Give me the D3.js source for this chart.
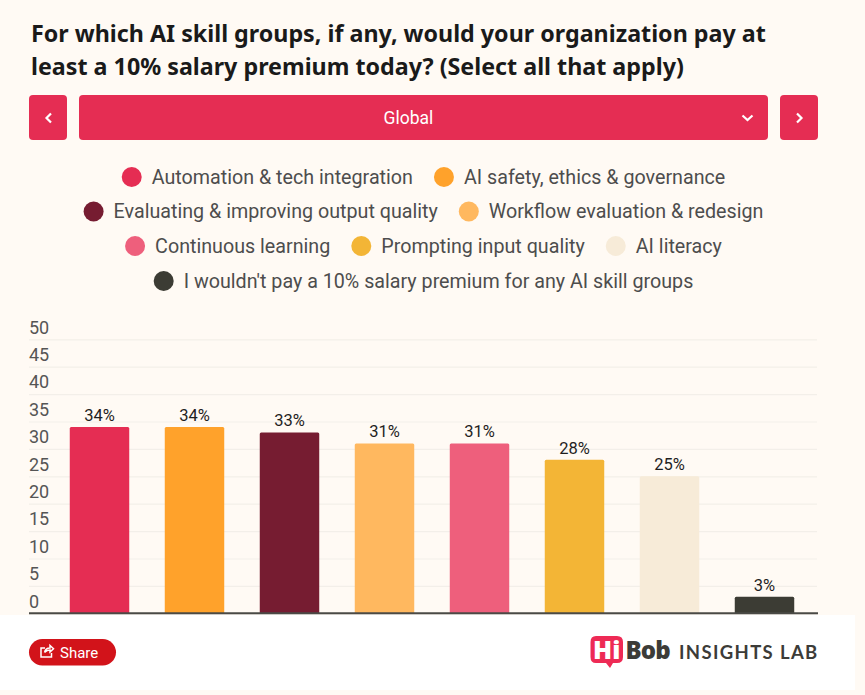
<!DOCTYPE html>
<html>
<head>
<meta charset="utf-8">
<script src="https://cdn.jsdelivr.net/npm/d3@7"></script>
<style>
  html, body { margin: 0; padding: 0; background: #fffaf4; overflow: hidden; }
  svg { display: block; }
  text { font-family: Roboto, sans-serif; }
</style>
</head>
<body>
<div id="chart"></div>
<script>
const titleLines = [
    "For which AI skill groups, if any, would your organization pay at",
    "least a 10% salary premium today? (Select all that apply)"
]
const selected = "Global"

const categories = [
    "Automation & tech integration",
    "AI safety, ethics & governance",
    "Evaluating & improving output quality",
    "Workflow evaluation & redesign",
    "Continuous learning",
    "Prompting input quality",
    "AI literacy",
    "I wouldn't pay a 10% salary premium for any AI skill groups"
]
const values = [34, 34, 33, 31, 31, 28, 25, 3]
const colors = ["#e52d53", "#ffa22b", "#761c31", "#ffb85f", "#ee5f7c", "#f3b536", "#f7ebd8", "#3c3c34"]
const yTicks = [0, 5, 10, 15, 20, 25, 30, 35, 40, 45, 50]
// which categories sit on which legend row
const legendRows = [[0, 1], [2, 3], [4, 5, 6], [7]]

const width = 865
const height = 695
const red = "#e52d53"

const svg = d3.select("#chart").append("svg")
    .attr("width", width)
    .attr("height", height)

// white footer strip goes first, the axis line overlaps it a little
svg.append("rect")
    .attr("x", 0).attr("y", 615)
    .attr("width", 855).attr("height", 75)
    .attr("fill", "#ffffff")

// title
svg.selectAll("text.title")
    .data(titleLines)
    .enter().append("text")
    .attr("class", "title")
    .attr("x", 31)
    .attr("y", (d, i) => 41.5 + i * 33.7)
    .style("font-family", "'Noto Sans', sans-serif")
    .style("font-weight", 700)
    .style("font-size", "23.27px")
    .attr("fill", "#1a1a1a")
    .text(d => d)

// selector buttons
const buttons = [
    {x: 29, w: 38},
    {x: 79, w: 689},
    {x: 780, w: 38}
]
svg.selectAll("rect.button")
    .data(buttons)
    .enter().append("rect")
    .attr("class", "button")
    .attr("x", d => d.x)
    .attr("y", 95)
    .attr("width", d => d.w)
    .attr("height", 45)
    .attr("rx", 4)
    .attr("fill", red)

svg.append("text")
    .attr("x", 408.5)
    .attr("y", 123.5)
    .attr("text-anchor", "middle")
    .attr("fill", "#ffffff")
    .style("font-size", "17.5px")
    .text(selected)

// little chevrons on the buttons
const chevrons = ["M51 113.5 L46.5 118 L51 122.5", "M797 113.5 L801.5 118 L797 122.5", "M742.5 115.5 L747.5 120 L752.5 115.5"]
svg.selectAll("path.chevron")
    .data(chevrons)
    .enter().append("path")
    .attr("class", "chevron")
    .attr("d", d => d)
    .attr("fill", "none")
    .attr("stroke", "#ffffff")
    .attr("stroke-width", 2.2)

// legend, each row is measured and then centered
const legendY = [177, 211.5, 246, 281]
legendRows.forEach((row, r) => {
    const g = svg.append("g")
    let x = 0
    row.forEach(i => {
        g.append("circle")
            .attr("cx", x + 10)
            .attr("r", 10)
            .attr("fill", colors[i])
        const label = g.append("text")
            .attr("x", x + 30)
            .attr("dy", "0.35em")
            .attr("fill", "#4d4d4d")
            .style("font-size", "19.7px")
            .text(categories[i])
        x += 30 + label.node().getComputedTextLength() + 21
    })
    g.attr("transform", `translate(${423.5 - (x - 21) / 2},${legendY[r]})`)
})

// scales
const x = d3.scaleBand()
    .domain(categories)
    .range([52, 812])
    .paddingInner(0.374)
    .paddingOuter(0.187)

const y = d3.scaleLinear()
    .domain([0, 50])
    .range([613.3, 339.3])

// y axis with the labels sitting on top of the grid lines
const yAxis = d3.axisRight(y)
    .tickValues(yTicks)
    .tickSize(788)
    .tickFormat(d3.format("d"))

const axisG = svg.append("g")
    .attr("transform", "translate(29,0)")
    .call(yAxis)
axisG.select(".domain").remove()
axisG.selectAll(".tick line")
    .attr("stroke", "#f3efe9")
    .attr("stroke-width", 1.2)
axisG.selectAll(".tick text")
    .attr("x", 0)
    .attr("dy", "-0.35em")
    .attr("text-anchor", "start")
    .attr("fill", "#555555")
    .style("font-family", "Roboto, sans-serif")
    .style("font-size", "18px")

// bars
const bars = categories.map((c, i) => ({name: c, value: values[i], color: colors[i]}))

svg.selectAll("path.bar")
    .data(bars)
    .enter().append("path")
    .attr("class", "bar")
    .attr("fill", d => d.color)
    .attr("d", d => {
        const l = x(d.name), w = x.bandwidth(), t = y(d.value), b = y(0), r = 1.5
        return `M${l} ${b} V${t + r} Q${l} ${t} ${l + r} ${t} H${l + w - r} Q${l + w} ${t} ${l + w} ${t + r} V${b} Z`
    })

svg.selectAll("text.value")
    .data(bars)
    .enter().append("text")
    .attr("class", "value")
    .attr("x", d => x(d.name) + x.bandwidth() / 2)
    .attr("y", d => y(d.value) - 6)
    .attr("text-anchor", "middle")
    .attr("fill", "#1f1f1f")
    .style("font-size", "16.5px")
    .text(d => d.value + "%")

// baseline
svg.append("line")
    .attr("x1", 29).attr("x2", 818)
    .attr("y1", y(0)).attr("y2", y(0))
    .attr("stroke", "#4a4a46")
    .attr("stroke-width", 2)

// share button
svg.append("rect")
    .attr("x", 29).attr("y", 639)
    .attr("width", 87).attr("height", 26.5)
    .attr("rx", 13.25)
    .attr("fill", "#d2131a")
svg.append("path")
    .attr("d", "M45 648 H41 V657 H51.5 V653 M44.5 652.5 Q45.5 648 50 648 V645.5 L53.5 648.8 L50 652 V650 Q47 650 44.5 652.5")
    .attr("fill", "none")
    .attr("stroke", "#ffffff")
    .attr("stroke-width", 1.5)
svg.append("text")
    .attr("x", 60).attr("y", 657.5)
    .attr("fill", "#ffffff")
    .style("font-size", "15px")
    .text("Share")

// logo
svg.append("path")
    .attr("d", "M596 636 H617 Q623 636 623 642 V657 Q623 663 617 663 H613 L610 668 L606 663 H596 Q590.5 663 590.5 657 V642 Q590.5 636 596 636 Z")
    .attr("fill", "#ee2a55")
svg.append("text")
    .attr("x", 606.7).attr("y", 659)
    .attr("text-anchor", "middle")
    .attr("fill", "#ffffff")
    .style("font-family", "'Open Sans', sans-serif")
    .style("font-weight", 800)
    .style("font-size", "25px")
    .text("Hi")
svg.append("text")
    .attr("x", 625.5).attr("y", 658.5)
    .attr("fill", "#3c3c38")
    .style("font-family", "'Open Sans', sans-serif")
    .style("font-weight", 800)
    .style("font-size", "24px")
    .style("letter-spacing", "-0.8px")
    .text("Bob")
svg.append("text")
    .attr("x", 679).attr("y", 659)
    .attr("fill", "#3c3c38")
    .style("font-family", "Lato, sans-serif")
    .style("font-weight", 700)
    .style("font-size", "18.5px")
    .style("letter-spacing", "1.35px")
    .text("INSIGHTS LAB")
</script>
</body>
</html>
